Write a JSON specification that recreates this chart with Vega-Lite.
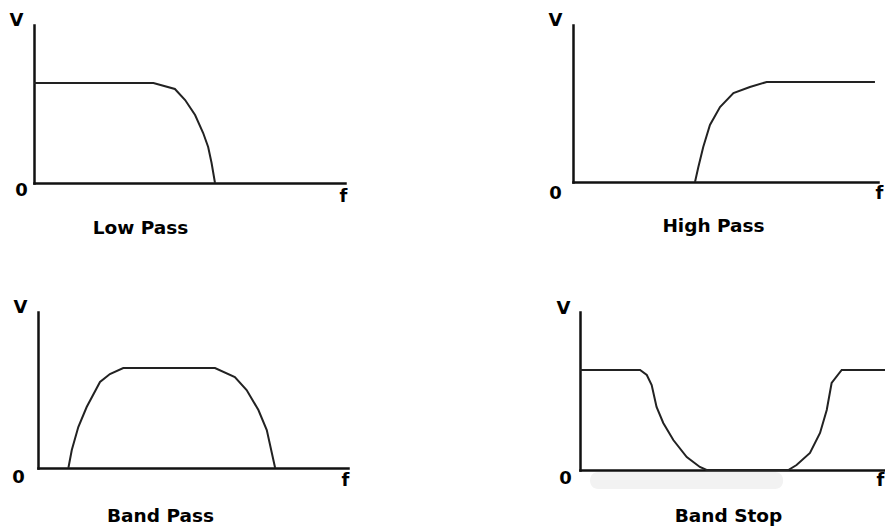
{
  "$schema": "https://vega.github.io/schema/vega-lite/v6.json",
  "autosize": "none",
  "padding": {"left": 34, "top": 25, "right": 851, "bottom": 501},
  "background": "white",
  "columns": 2,
  "spacing": {"row": 129, "column": 225},
  "bounds": "flush",
  "config": {
    "view": {"stroke": null},
    "axis": {
      "grid": false, "ticks": false, "tickSize": 0,
      "domainColor": "#111", "domainWidth": 2.5, "domainCap": "square",
      "labelFont": "DejaVu Sans", "labelFontWeight": "bold", "labelFontSize": 18, "labelColor": "#000",
      "titleFont": "DejaVu Sans", "titleFontWeight": "bold", "titleFontSize": 18.5, "titleColor": "#000",
      "labelFlush": false, "labelOverlap": false, "labelAlign": "center", "labelBaseline": "middle",
      "titleAlign": "center", "titleBaseline": "middle", "titleAngle": 0
    },
    "line": {"color": "#222", "strokeWidth": 2, "interpolate": "linear"}
  },
  "concat": [
    {
      "width": 311, "height": 158,
      "data": {"values": [
        {"f": 0, "V": 1}, {"f": 38.4, "V": 1}, {"f": 45.3, "V": 0.94}, {"f": 48.6, "V": 0.83},
        {"f": 51.8, "V": 0.68}, {"f": 54.4, "V": 0.5}, {"f": 56.0, "V": 0.36}, {"f": 57.1, "V": 0.2}, {"f": 58.2, "V": 0}
      ]},
      "mark": {"type": "line"},
      "encoding": {
        "x": {"field": "f", "type": "quantitative", "scale": {"domain": [0, 100], "nice": false, "zero": false},
          "axis": {"values": [100], "labelExpr": "'f'", "labelPadding": 13, "labelOffset": -2,
            "title": "Low Pass", "titleX": 106, "titleY": 44}},
        "y": {"field": "V", "type": "quantitative", "scale": {"domain": [0, 1.58], "nice": false},
          "axis": {"values": [0, 1.58], "labelExpr": "datum.value == 0 ? '0' : 'V'", "title": null,
            "labelPadding": {"condition": {"test": "datum.value == 0", "value": 13}, "value": 18},
            "labelOffset": {"condition": {"test": "datum.value == 0", "value": 7}, "value": -5}}}
      }
    },
    {
      "width": 305, "height": 157,
      "data": {"values": [
        {"f": 40.0, "V": 0}, {"f": 41.1, "V": 0.15}, {"f": 42.7, "V": 0.35}, {"f": 44.9, "V": 0.57},
        {"f": 48.2, "V": 0.75}, {"f": 52.6, "V": 0.89}, {"f": 58.0, "V": 0.95}, {"f": 63.5, "V": 1}, {"f": 99, "V": 1}
      ]},
      "mark": {"type": "line"},
      "encoding": {
        "x": {"field": "f", "type": "quantitative", "scale": {"domain": [0, 100], "nice": false, "zero": false},
          "axis": {"values": [100], "labelExpr": "'f'", "labelPadding": 11, "labelOffset": 1,
            "title": "High Pass", "titleX": 140, "titleY": 43}},
        "y": {"field": "V", "type": "quantitative", "scale": {"domain": [0, 1.57], "nice": false},
          "axis": {"values": [0, 1.57], "labelExpr": "datum.value == 0 ? '0' : 'V'", "title": null,
            "labelPadding": 18,
            "labelOffset": {"condition": {"test": "datum.value == 0", "value": 11}, "value": -5}}}
      }
    },
    {
      "width": 314, "height": 156,
      "data": {"values": [
        {"f": 9.8, "V": 0}, {"f": 10.9, "V": 0.18}, {"f": 13.0, "V": 0.41}, {"f": 15.7, "V": 0.61},
        {"f": 20.0, "V": 0.86}, {"f": 23.2, "V": 0.94}, {"f": 27.5, "V": 1}, {"f": 57.1, "V": 1},
        {"f": 63.5, "V": 0.91}, {"f": 67.3, "V": 0.78}, {"f": 71.1, "V": 0.58}, {"f": 73.8, "V": 0.38}, {"f": 76.5, "V": 0}
      ]},
      "mark": {"type": "line"},
      "encoding": {
        "x": {"field": "f", "type": "quantitative", "scale": {"domain": [0, 100], "range": [4, 314], "nice": false, "zero": false},
          "axis": {"values": [100], "labelExpr": "'f'", "labelPadding": 12, "labelOffset": -3,
            "title": "Band Pass", "titleX": 126, "titleY": 47}},
        "y": {"field": "V", "type": "quantitative", "scale": {"domain": [0, 1.56], "nice": false},
          "axis": {"values": [0, 1.56], "labelExpr": "datum.value == 0 ? '0' : 'V'", "title": null, "offset": -4,
            "labelPadding": {"condition": {"test": "datum.value == 0", "value": 20}, "value": 18},
            "labelOffset": {"condition": {"test": "datum.value == 0", "value": 9}, "value": -5}}}
      }
    },
    {
      "width": 312, "height": 158,
      "layer": [
        {
          "data": {"values": [
            {"f": 0, "V": 1}, {"f": 19.7, "V": 1}, {"f": 21.9, "V": 0.95}, {"f": 23.5, "V": 0.85},
            {"f": 25.1, "V": 0.63}, {"f": 27.3, "V": 0.47}, {"f": 30.6, "V": 0.3}, {"f": 35.0, "V": 0.13},
            {"f": 39.3, "V": 0.03}, {"f": 41.5, "V": 0}, {"f": 68.3, "V": 0}, {"f": 71.0, "V": 0.05},
            {"f": 75.4, "V": 0.17}, {"f": 78.7, "V": 0.37}, {"f": 80.9, "V": 0.6}, {"f": 82.5, "V": 0.87},
            {"f": 85.8, "V": 1}, {"f": 100, "V": 1}
          ]},
          "mark": {"type": "line"},
          "encoding": {
            "x": {"field": "f", "type": "quantitative", "scale": {"domain": [0, 100], "range": [7, 312], "nice": false, "zero": false},
              "axis": {"values": [100], "labelExpr": "'f'", "labelPadding": 10, "labelOffset": -5,
                "title": "Band Stop", "titleX": 155, "titleY": 45}},
            "y": {"field": "V", "type": "quantitative", "scale": {"domain": [0, 1.58], "nice": false},
              "axis": {"values": [0, 1.58], "labelExpr": "datum.value == 0 ? '0' : 'V'", "title": null, "offset": -7,
                "labelPadding": {"condition": {"test": "datum.value == 0", "value": 15}, "value": 17},
                "labelOffset": {"condition": {"test": "datum.value == 0", "value": 8}, "value": -4}}}
          }
        },
        {
          "data": {"values": [{"f1": 3.3, "f2": 66.6, "V1": -0.02, "V2": -0.19}]},
          "mark": {"type": "rect", "color": "#f2f2f2", "cornerRadius": 8},
          "encoding": {
            "x": {"field": "f1", "type": "quantitative"},
            "x2": {"field": "f2"},
            "y": {"field": "V1", "type": "quantitative"},
            "y2": {"field": "V2"}
          }
        }
      ]
    }
  ]
}
